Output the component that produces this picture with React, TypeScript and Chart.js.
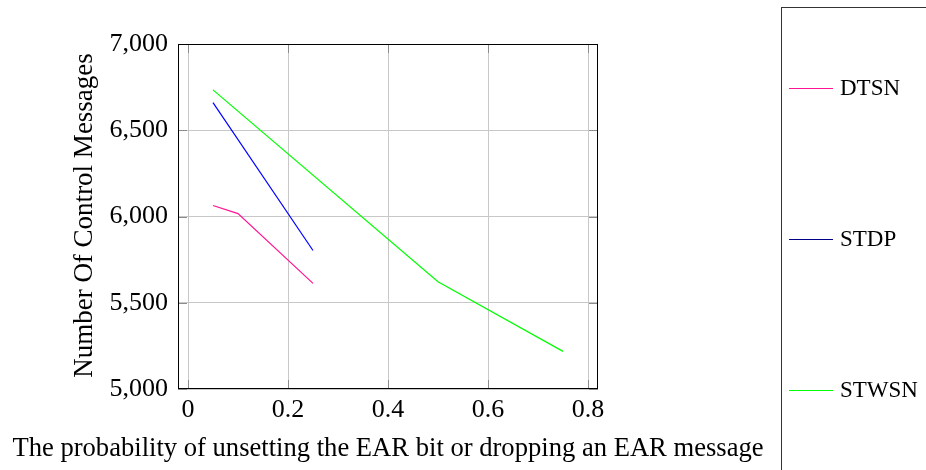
import { useEffect, useRef } from "react";
import { Chart, registerables } from "chart.js";

Chart.register(...registerables);

const seriesNames = ["DTSN", "STDP", "STWSN"];
const seriesColors = ["#ff1493", "#0000ff", "#00ff00"];
const legendColors = ["#ff1493", "#00008b", "#00ff00"];
const dtsnX = [0.05, 0.1, 0.25];
const dtsnY = [6064, 6017, 5612];
const stdpX = [0.05, 0.25];
const stdpY = [6660, 5803];
const stwsnX = [0.05, 0.5, 0.75];
const stwsnY = [6734, 5622, 5218];
const xTicks = [0, 0.2, 0.4, 0.6, 0.8];
const yTicks = [5000, 5500, 6000, 6500, 7000];
const xTitle = "The probability of unsetting the EAR bit or dropping an EAR message";
const yTitle = "Number Of Control Messages";

const FONT = "'Liberation Serif', 'Times New Roman', serif";

const toPoints = (xs: number[], ys: number[]) => xs.map((x, i) => ({ x, y: ys[i] }));

const tickMarks = {
  id: "tickMarks",
  afterDatasetsDraw(chart: any) {
    const { ctx, chartArea, scales } = chart;
    const len = 9;
    ctx.save();
    ctx.strokeStyle = "#8c8c8c";
    ctx.lineWidth = 1;
    ctx.beginPath();
    for (const v of xTicks) {
      const px = Math.round(scales.x.getPixelForValue(v)) + 0.5;
      ctx.moveTo(px, chartArea.top);
      ctx.lineTo(px, chartArea.top + len);
      ctx.moveTo(px, chartArea.bottom);
      ctx.lineTo(px, chartArea.bottom - len);
    }
    for (const v of yTicks) {
      const py = Math.round(scales.y.getPixelForValue(v)) + 0.5;
      ctx.moveTo(chartArea.left, py);
      ctx.lineTo(chartArea.left + len, py);
      ctx.moveTo(chartArea.right, py);
      ctx.lineTo(chartArea.right - len, py);
    }
    ctx.stroke();
    ctx.strokeStyle = "#000";
    ctx.strokeRect(chartArea.left + 0.5, chartArea.top + 0.5, chartArea.right - chartArea.left - 1, chartArea.bottom - chartArea.top - 1);
    ctx.restore();
  },
};

const axisTitles = {
  id: "axisTitles",
  afterDraw(chart: any) {
    const { ctx, chartArea } = chart;
    ctx.save();
    ctx.fillStyle = "#000";
    ctx.textBaseline = "alphabetic";
    ctx.textAlign = "center";
    ctx.font = `26.6px ${FONT}`;
    ctx.fillText(xTitle, (chartArea.left + chartArea.right) / 2, 456);
    ctx.font = `27px ${FONT}`;
    ctx.translate(92, (chartArea.top + chartArea.bottom) / 2 - 1);
    ctx.rotate(-Math.PI / 2);
    ctx.fillText(yTitle, 0, 0);
    ctx.restore();
  },
};

const sideLegend = {
  id: "sideLegend",
  afterDraw(chart: any) {
    const { ctx } = chart;
    ctx.save();
    ctx.strokeStyle = "#333";
    ctx.lineWidth = 1;
    ctx.strokeRect(781.5, 7.5, 300, 600);
    const ys = [88, 239, 390];
    ctx.font = `23px ${FONT}`;
    ctx.textBaseline = "middle";
    ctx.textAlign = "left";
    seriesNames.forEach((name, i) => {
      ctx.strokeStyle = legendColors[i];
      ctx.beginPath();
      ctx.moveTo(789, ys[i] + 0.5);
      ctx.lineTo(833, ys[i] + 0.5);
      ctx.stroke();
      ctx.fillStyle = "#000";
      ctx.fillText(name, 840, ys[i] + 1);
    });
    ctx.restore();
  },
};

export default function App() {
  const ref = useRef<HTMLCanvasElement>(null);
  useEffect(() => {
    if (!ref.current) return;
    const chart = new Chart(ref.current, {
      type: "line",
      data: {
        datasets: [
          { label: seriesNames[0], data: toPoints(dtsnX, dtsnY), borderColor: seriesColors[0] },
          { label: seriesNames[1], data: toPoints(stdpX, stdpY), borderColor: seriesColors[1] },
          { label: seriesNames[2], data: toPoints(stwsnX, stwsnY), borderColor: seriesColors[2] },
        ].map((d) => ({ ...d, borderWidth: 1.2, pointRadius: 0, fill: false, tension: 0 })),
      },
      options: {
        animation: false,
        responsive: false,
        events: [],
        layout: { padding: { left: 0, top: 44, right: 328, bottom: 0 } },
        plugins: { legend: { display: false }, tooltip: { enabled: false } },
        scales: {
          x: {
            type: "linear",
            min: -0.02,
            max: 0.82,
            afterBuildTicks: (s: any) => {
              s.ticks = xTicks.map((v) => ({ value: v }));
            },
            afterFit: (s: any) => {
              s.height = 81;
            },
            grid: { color: "#c8c8c8", drawTicks: false },
            border: { display: false },
            ticks: {
              color: "#000",
              padding: 6,
              maxRotation: 0,
              font: { family: FONT, size: 26 },
              callback: (v: any) => String(v),
            },
          },
          y: {
            type: "linear",
            min: 5000,
            max: 7000,
            afterBuildTicks: (s: any) => {
              s.ticks = yTicks.map((v) => ({ value: v }));
            },
            afterFit: (s: any) => {
              s.width = 178;
            },
            grid: { color: "#c8c8c8", drawTicks: false },
            border: { display: false },
            ticks: {
              color: "#000",
              padding: 10,
              font: { family: FONT, size: 26 },
              callback: (v: any) => Number(v).toLocaleString("en-US"),
            },
          },
        },
      },
      plugins: [tickMarks, axisTitles, sideLegend],
    } as any);
    return () => chart.destroy();
  }, []);
  return (
    <div style={{ position: "fixed", left: 0, top: 0, width: 926, height: 470, background: "#fff" }}>
      <canvas ref={ref} width={926} height={470} style={{ width: 926, height: 470, display: "block" }} />
    </div>
  );
}
